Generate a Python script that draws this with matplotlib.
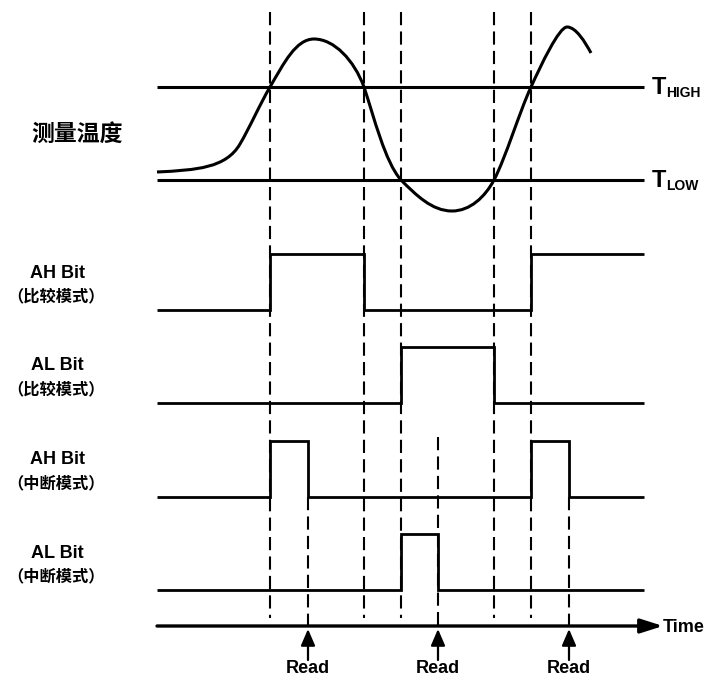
import matplotlib.pyplot as plt
from matplotlib.path import Path
from matplotlib.patches import PathPatch

plt.rcParams['lines.scale_dashes'] = False

# --- data (pixel-like units: x = time, y grows downward) ---
T_START, T_END = 157, 644
T_HIGH_Y, T_LOW_Y = 87, 180
EDGES = [270, 364, 401, 494, 531]      # threshold crossings
READS = [308, 438, 569]                # read events
READ_FROM = [497, 437, 497]            # where read dashes start

# measured temperature as a cubic Bezier path: anchor, ctrl, ctrl, anchor, ...
temp_x = [157, 197, 226, 240, 250, 260, 270, 284, 296, 314, 334, 354, 364,
          374, 385, 401, 416, 432, 452, 470, 485, 494, 506, 519, 531,
          541, 559, 567, 576, 585, 591]
temp_y = [172, 170, 168, 144, 127, 104, 87, 63, 39, 39, 39, 60, 87,
          117, 162, 180, 195, 211, 211, 211, 197, 180, 157, 113, 87,
          65, 27, 27, 27, 42, 53]

# step signals: (times, levels)
sig_t = [[157, 270, 364, 531, 644],
         [157, 401, 494, 644],
         [157, 270, 308, 531, 569, 644],
         [157, 401, 438, 644]]
sig_v = [[0, 1, 0, 1, 1],
         [0, 1, 0, 0],
         [0, 1, 0, 1, 0, 0],
         [0, 1, 0, 0]]
row_base = [310, 403, 497, 590]
row_h = 56
row_names = ['AH Bit', 'AL Bit', 'AH Bit', 'AL Bit']
row_modes = ['（比较模式）', '（比较模式）', '（中断模式）', '（中断模式）']

TIME_Y = 626

# --- figure ---
fig = plt.figure(figsize=(7.04, 6.78), dpi=100)
ax = fig.add_axes([0, 0, 1, 1])
ax.set_xlim(0, 704)
ax.set_ylim(678, 0)
ax.axis('off')

lat = 'Liberation Sans'
cjk = 'Noto Sans CJK SC'
dash = (0, (9.5, 4.5))

# vertical dashed guides
for x in EDGES:
    ax.plot([x, x], [12, 618], color='k', lw=1.5, linestyle=dash)
for x, y0 in zip(READS, READ_FROM):
    ax.plot([x, x], [y0, TIME_Y], color='k', lw=1.5, linestyle=dash)

# thresholds and temperature curve
ax.plot([T_START, T_END], [T_HIGH_Y, T_HIGH_Y], color='k', lw=2.2, solid_capstyle='butt')
ax.plot([T_START, T_END], [T_LOW_Y, T_LOW_Y], color='k', lw=2.2, solid_capstyle='butt')
codes = [Path.MOVETO] + [Path.CURVE4] * (len(temp_x) - 1)
curve = Path(list(zip(temp_x, temp_y)), codes)
ax.add_patch(PathPatch(curve, facecolor='none', edgecolor='k', lw=2.2,
                       capstyle='butt', joinstyle='round'))

ax.text(652, T_HIGH_Y + 7, 'T', fontsize=17, fontweight='bold', family=lat, va='baseline')
ax.text(666, T_HIGH_Y + 10, 'HIGH', fontsize=10, fontweight='bold', family=lat, va='baseline')
ax.text(652, T_LOW_Y + 7, 'T', fontsize=17, fontweight='bold', family=lat, va='baseline')
ax.text(666, T_LOW_Y + 10, 'LOW', fontsize=10, fontweight='bold', family=lat, va='baseline')
ax.text(77, 134, '测量温度', fontsize=16.5, fontweight='bold', family=cjk,
        ha='center', va='center')

# digital signals
for t, v, base, name, mode in zip(sig_t, sig_v, row_base, row_names, row_modes):
    ys = [base - row_h * lv for lv in v]
    ax.plot(t, ys, color='k', lw=2.0, drawstyle='steps-post',
            solid_joinstyle='miter', solid_capstyle='butt')
    ax.text(57, base - 37, name, fontsize=13, fontweight='bold', family=lat,
            ha='center', va='center')
    ax.text(56, base - 14, mode, fontsize=11.7, fontweight='bold', family=cjk,
            ha='center', va='center')

# time axis
ax.annotate('', xy=(663, TIME_Y), xytext=(T_START, TIME_Y),
            arrowprops=dict(arrowstyle='-|>,head_length=13.5,head_width=4.3',
                            mutation_scale=1, lw=2.4, color='k',
                            shrinkA=0, shrinkB=0))
ax.text(663, TIME_Y + 1, 'Time', fontsize=13, fontweight='bold', family=lat,
        ha='left', va='center')

# read markers
for x in READS:
    ax.annotate('', xy=(x, TIME_Y + 3), xytext=(x, 660),
                arrowprops=dict(arrowstyle='-|>,head_length=10,head_width=4.3',
                                mutation_scale=1, lw=1.6, color='k',
                                shrinkA=0, shrinkB=0))
    ax.text(x, 677, 'Read', fontsize=13, fontweight='bold', family=lat,
            ha='center', va='bottom')

fig.savefig('out.png', dpi=100)
